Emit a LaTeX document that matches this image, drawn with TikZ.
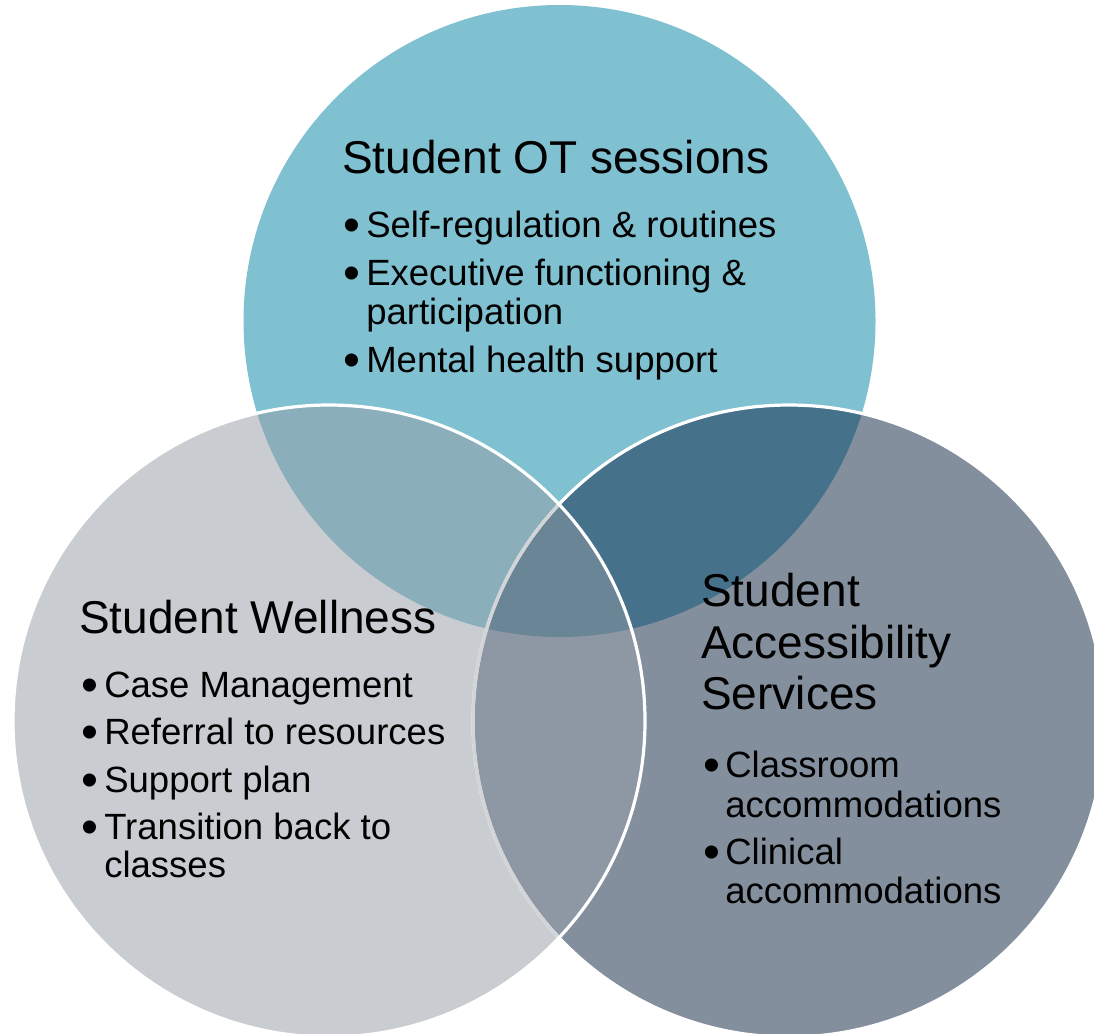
\documentclass[tikz,border=0pt]{standalone}
\usepackage{fontspec}
\setmainfont{Liberation Sans}
\definecolor{cT}{HTML}{7FC1D1}
\definecolor{cL}{HTML}{C9CCD1}
\definecolor{cR}{HTML}{838F9C}
\definecolor{cTL}{HTML}{8AAFBB}
\definecolor{cTR}{HTML}{45728A}
\definecolor{cLR}{HTML}{8E98A5}
\definecolor{cTLR}{HTML}{6A8696}
\definecolor{cFaint}{HTML}{D2D4D7}
\newcommand{\bigbul}{\raisebox{-3.1pt}{\scalebox{1.32}{\textbullet}}}
\begin{document}
\begin{tikzpicture}[x=0.75pt,y=-0.75pt,
  ttl/.style={anchor=base west,inner sep=0pt,font=\fontsize{34.5pt}{40pt}\selectfont},
  itm/.style={anchor=base west,inner sep=0pt,font=\fontsize{27.4pt}{32pt}\selectfont},
  rim/.style={draw=white,line width=2.4pt}]
\useasboundingbox (0,0) rectangle (1094,1033);
\clip (0,0) rectangle (1094,1033);
\fill[white] (0,0) rectangle (1094,1033);
\coordinate (T) at (559.5,321);
\coordinate (L) at (329,721);
\coordinate (R) at (789,721);
\def\rr{237pt}
% circles
\fill[cT] (T) circle[radius=\rr];
\fill[cL] (L) circle[radius=\rr];
\fill[cR] (R) circle[radius=\rr];
\begin{scope}
  \clip (T) circle[radius=\rr];
  \fill[cTL] (L) circle[radius=\rr];
  \fill[cTR] (R) circle[radius=\rr];
\end{scope}
\begin{scope}
  \clip (L) circle[radius=\rr];
  \fill[cLR] (R) circle[radius=\rr];
  \clip (T) circle[radius=\rr];
  \fill[cTLR] (R) circle[radius=\rr];
\end{scope}
% outlines
\draw[rim] (R) circle[radius=\rr];
\begin{scope}
  \clip (L) circle[radius=\rr];
  \draw[cFaint,line width=2.4pt] (R) circle[radius=\rr];
\end{scope}
\draw[rim] (L) circle[radius=\rr];
% Student OT sessions
\node[ttl] (otT) at (342,173) {Student OT sessions};
\node[itm] (otB1) at (343,237) {\bigbul};
\node[itm] (ot1) at (366,237) {Self-regulation \& routines};
\node[itm] (otB2) at (343,285) {\bigbul};
\node[itm] (ot2) at (366,285) {Executive functioning \&};
\node[itm] (ot2b) at (366,324) {participation};
\node[itm] (otB3) at (343,372) {\bigbul};
\node[itm] (ot3) at (366,372) {Mental health support};
% Student Wellness
\node[ttl] (swT) at (79,633) {Student Wellness};
\node[itm] (swB1) at (81,697) {\bigbul};
\node[itm] (sw1) at (104,697) {Case Management};
\node[itm] (swB2) at (81,744) {\bigbul};
\node[itm] (sw2) at (104,744) {Referral to resources};
\node[itm] (swB3) at (81,792) {\bigbul};
\node[itm] (sw3) at (104,792) {Support plan};
\node[itm] (swB4) at (81,839) {\bigbul};
\node[itm] (sw4) at (104,839) {Transition back to};
\node[itm] (sw4b) at (104,877) {classes};
% Student Accessibility Services
\node[ttl] (saT1) at (701,606) {Student};
\node[ttl] (saT2) at (701,658) {Accessibility};
\node[ttl] (saT3) at (701,709) {Services};
\node[itm] (saB1) at (703,777) {\bigbul};
\node[itm] (sa1) at (725,777) {Classroom};
\node[itm] (sa1b) at (725,817) {accommodations};
\node[itm] (saB2) at (703,864) {\bigbul};
\node[itm] (sa2) at (725,864) {Clinical};
\node[itm] (sa2b) at (725,903) {accommodations};
\end{tikzpicture}
\end{document}
